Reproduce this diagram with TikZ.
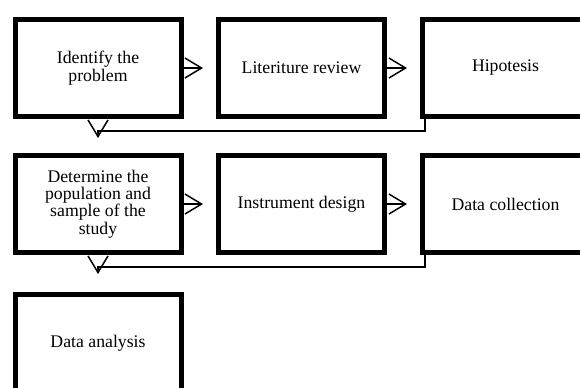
\documentclass[tikz,border=0pt]{standalone}
\usepackage{fontspec}
\setmainfont{Liberation Serif}
\usetikzlibrary{arrows.meta,calc}
\begin{document}
\begin{tikzpicture}[x=0.75pt,y=-0.75pt,
  stepbox/.style={draw=black, line width=3.75pt, minimum width=124.5pt, minimum height=72.75pt,
    inner sep=0pt, align=center, font=\fontsize{13.3}{13}\selectfont},
  arr/.style={line width=1.1pt, -{Straight Barb[length=12.5pt,width=15pt,line width=1.1pt]}},
]
\clip (0,0) rectangle (580,387);
\fill[white] (0,0) rectangle (580,387);
\node[stepbox] (idp) at (98,68) {Identify the\\problem};
\node[stepbox] (lit) at (301.5,68) {Literiture review};
\node[stepbox] (hip) at (505.5,68) {Hipotesis};
\node[stepbox] (det) at (98,204) {Determine the\\population and\\sample of the\\study};
\node[stepbox] (ins) at (301.5,204) {Instrument design};
\node[stepbox] (dat) at (505.5,204) {Data collection};
\node[stepbox] (ana) at (98,343) {Data analysis};
\draw[arr, shorten >=9.75pt] (idp) -- (lit);
\draw[arr, shorten >=9.75pt] (lit) -- (hip);
\draw[arr, shorten >=9.75pt] (det) -- (ins);
\draw[arr, shorten >=9.75pt] (ins) -- (dat);
\draw[arr] ([xshift=3.75pt]hip.south west) -- ++(0,12) -| ([yshift=11.25pt]det.north);
\draw[arr] ([xshift=3.75pt]dat.south west) -- ++(0,12) -| ([yshift=13.5pt]ana.north);
\end{tikzpicture}
\end{document}
